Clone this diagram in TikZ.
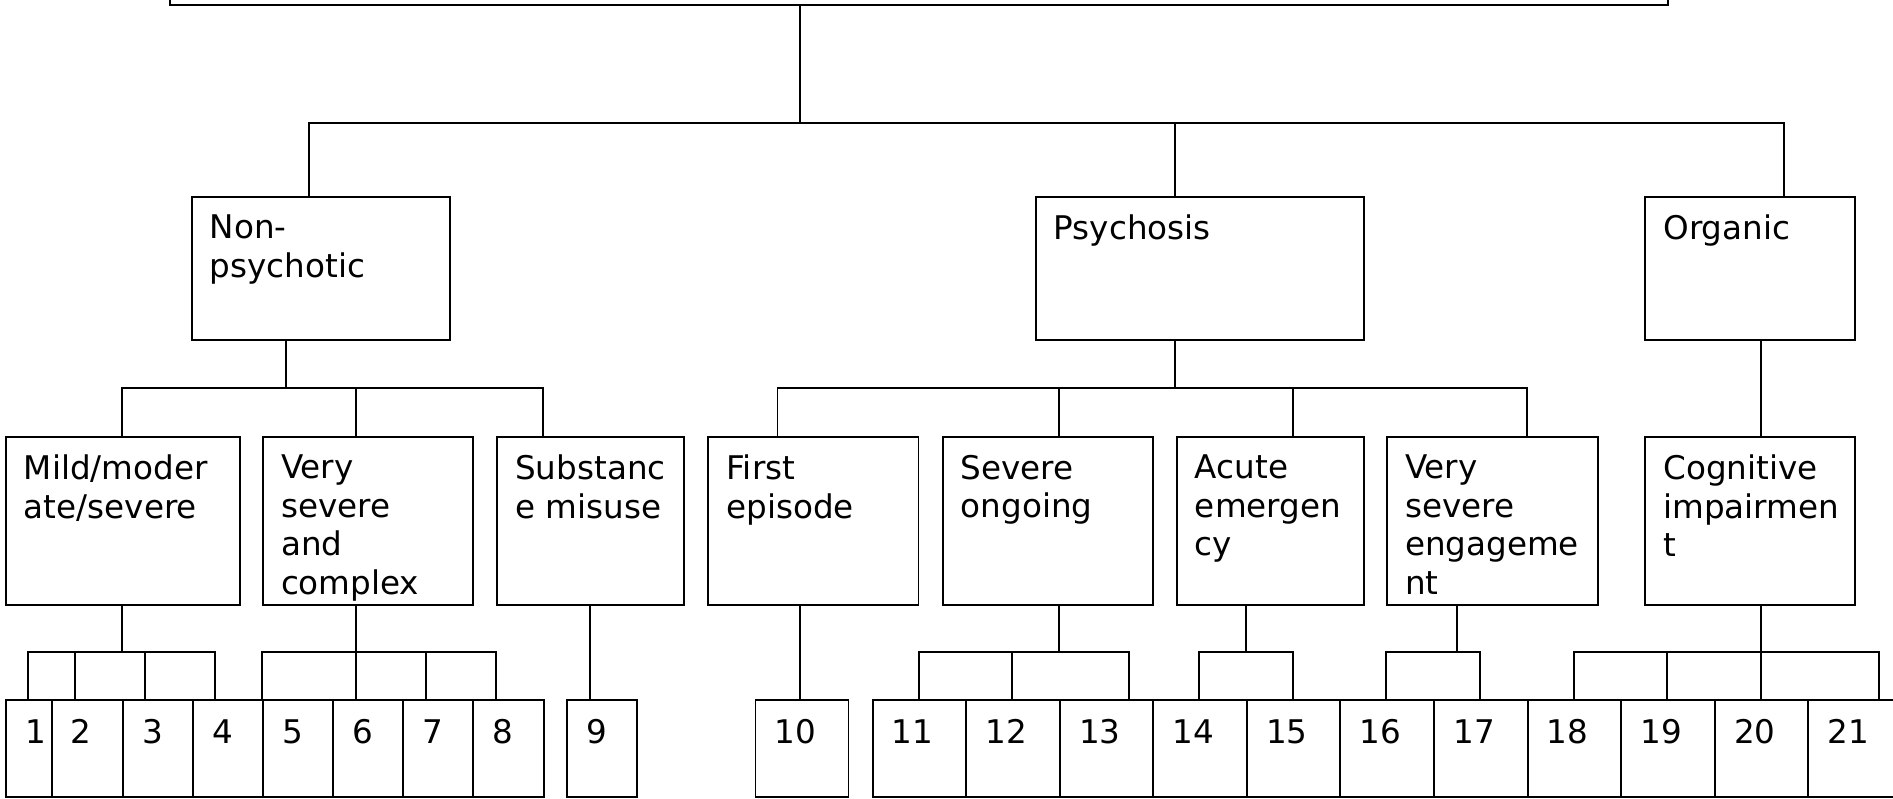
\documentclass[tikz,border=0pt]{standalone}
\usepackage{fontspec}
\setmainfont{DejaVu Sans}

\begin{document}
\begin{tikzpicture}[x=0.5pt,y=-0.5pt,line width=0.8pt,
  grp/.style={draw,anchor=north west,inner sep=0pt,minimum height=59.5pt},
  subgrp/.style={draw,anchor=north west,inner sep=0pt,minimum height=69.5pt},
  cell/.style={draw,anchor=north west,inner sep=0pt,minimum height=40pt},
  lbl/.style={anchor=north west,align=left,inner xsep=7.5pt,inner ysep=7.5pt,
    font=\fontsize{13.5}{16}\selectfont},
  num/.style={lbl,inner xsep=8pt,inner ysep=8pt}]
  \useasboundingbox (0,0) rectangle (1568,661);

  \node[draw,anchor=north west,inner sep=0pt,minimum width=620.5pt,minimum height=40pt] (top) at (140,-77){};

  \node[grp,minimum width=107pt] (np) at (158,162){};
  \node[lbl] (np-t) at (np.north west){Non-\\psychotic};
  \node[grp,minimum width=136pt] (ps) at (857,162){};
  \node[lbl] (ps-t) at (ps.north west){Psychosis};
  \node[grp,minimum width=87pt] (org) at (1362,162){};
  \node[lbl] (org-t) at (org.north west){Organic};

  \node[subgrp,minimum width=97pt] (mild) at (4,361){};
  \node[lbl] (mild-t) at (mild.north west){Mild/moder\\ate/severe};
  \node[subgrp,minimum width=87pt] (vsc) at (217,361){};
  \node[lbl] (vsc-t) at (vsc.north west){Very\\severe\\and\\complex};
  \node[subgrp,minimum width=77.5pt] (sub) at (411,361){};
  \node[lbl] (sub-t) at (sub.north west){Substanc\\e misuse};
  \node[subgrp,minimum width=87pt] (first) at (586,361){};
  \node[lbl] (first-t) at (first.north west){First\\episode};
  \node[subgrp,minimum width=87pt] (sevong) at (780,361){};
  \node[lbl] (sevong-t) at (sevong.north west){Severe\\ongoing};
  \node[subgrp,minimum width=77.5pt] (acute) at (974,361){};
  \node[lbl] (acute-t) at (acute.north west){Acute\\emergen\\cy};
  \node[subgrp,minimum width=87.5pt] (vse) at (1148,361){};
  \node[lbl] (vse-t) at (vse.north west){Very\\severe\\engageme\\nt};
  \node[subgrp,minimum width=87pt] (cog) at (1362,361){};
  \node[lbl] (cog-t) at (cog.north west){Cognitive\\impairmen\\t};

  \node[cell,minimum width=19pt] (n1) at (4,579){};
  \node[num] (n1-t) at (n1.north west){1};
  \node[cell,minimum width=29.5pt] (n2) at (42,579){};
  \node[num] (n2-t) at (n2.north west){2};
  \node[cell,minimum width=29pt] (n3) at (101,579){};
  \node[num] (n3-t) at (n3.north west){3};
  \node[cell,minimum width=29pt] (n4) at (159,579){};
  \node[num] (n4-t) at (n4.north west){4};
  \node[cell,minimum width=29pt] (n5) at (217,579){};
  \node[num] (n5-t) at (n5.north west){5};
  \node[cell,minimum width=29pt] (n6) at (275,579){};
  \node[num] (n6-t) at (n6.north west){6};
  \node[cell,minimum width=29pt] (n7) at (333,579){};
  \node[num] (n7-t) at (n7.north west){7};
  \node[cell,minimum width=29.5pt] (n8) at (391,579){};
  \node[num] (n8-t) at (n8.north west){8};
  \node[cell,minimum width=29pt] (n9) at (469,579){};
  \node[num] (n9-t) at (n9.north west){9};
  \node[cell,minimum width=38.5pt] (n10) at (625,579){};
  \node[num] (n10-t) at (n10.north west){10};
  \node[cell,minimum width=38.75pt] (n11) at (722,579){};
  \node[num] (n11-t) at (n11.north west){11};
  \node[cell,minimum width=38.75pt] (n12) at (799.5,579){};
  \node[num] (n12-t) at (n12.north west){12};
  \node[cell,minimum width=38.75pt] (n13) at (877,579){};
  \node[num] (n13-t) at (n13.north west){13};
  \node[cell,minimum width=38.75pt] (n14) at (954.5,579){};
  \node[num] (n14-t) at (n14.north west){14};
  \node[cell,minimum width=38.75pt] (n15) at (1032,579){};
  \node[num] (n15-t) at (n15.north west){15};
  \node[cell,minimum width=38.75pt] (n16) at (1109.5,579){};
  \node[num] (n16-t) at (n16.north west){16};
  \node[cell,minimum width=38.75pt] (n17) at (1187,579){};
  \node[num] (n17-t) at (n17.north west){17};
  \node[cell,minimum width=38.75pt] (n18) at (1264.5,579){};
  \node[num] (n18-t) at (n18.north west){18};
  \node[cell,minimum width=38.75pt] (n19) at (1342,579){};
  \node[num] (n19-t) at (n19.north west){19};
  \node[cell,minimum width=38.75pt] (n20) at (1419.5,579){};
  \node[num] (n20-t) at (n20.north west){20};
  \node[cell,minimum width=38.75pt] (n21) at (1497,579){};
  \node[num] (n21-t) at (n21.north west){21};

  \coordinate (j0) at (663,102);
  \coordinate (j1) at (237,321);
  \coordinate (j2) at (973,321);
  \coordinate (j3) at (1459,321);

  \draw (top.south -| j0) -- (j0);
  \draw (j0) -| (np.north -| 256,0);
  \draw (j0) -| (ps.north -| 973,0);
  \draw (j0) -| (org.north -| 1478,0);

  \draw (np.south -| j1) -- (j1);
  \draw (j1) -| (mild.north -| 101,0);
  \draw (j1) -| (vsc.north -| 295,0);
  \draw (j1) -| (sub.north -| 450,0);

  \draw (ps.south -| j2) -- (j2);
  \draw (j2) -| (first.north -| 644,0);
  \draw (j2) -| (sevong.north -| 877,0);
  \draw (j2) -| (acute.north -| 1071,0);
  \draw (j2) -| (vse.north -| 1265,0);

  \draw (org.south -| j3) -- (cog.north -| j3);

  \coordinate (k1) at (101,540);
  \coordinate (k2) at (295,540);
  \coordinate (k3) at (489,540);
  \coordinate (k4) at (663,540);
  \coordinate (k5) at (877,540);
  \coordinate (k6) at (1032,540);
  \coordinate (k7) at (1207,540);
  \coordinate (k8) at (1459,540);

  \draw (mild.south -| k1) -- (k1);
  \draw (k1) -| (n1.north -| 23,0);
  \draw (k1) -| (n2.north -| 62,0);
  \draw (k1) -| (n3.north -| 120,0);
  \draw (k1) -| (n4.north -| 178,0);

  \draw (vsc.south -| k2) -- (k2);
  \draw (k2) -| (n5.north -| 217,0);
  \draw (k2) -| (n6.north -| 295,0);
  \draw (k2) -| (n7.north -| 353,0);
  \draw (k2) -| (n8.north -| 411,0);

  \draw (sub.south -| k3) -- (n9.north -| k3);
  \draw (first.south -| k4) -- (n10.north -| k4);

  \draw (sevong.south -| k5) -- (k5);
  \draw (k5) -| (n11.north -| 761,0);
  \draw (k5) -| (n12.north -| 838,0);
  \draw (k5) -| (n13.north -| 935,0);

  \draw (acute.south -| k6) -- (k6);
  \draw (k6) -| (n14.north -| 993,0);
  \draw (k6) -| (n15.north -| 1071,0);

  \draw (vse.south -| k7) -- (k7);
  \draw (k7) -| (n16.north -| 1148,0);
  \draw (k7) -| (n17.north -| 1226,0);

  \draw (cog.south -| k8) -- (k8);
  \draw (k8) -| (n18.north -| 1304,0);
  \draw (k8) -| (n19.north -| 1381,0);
  \draw (k8) -| (n20.north -| 1459,0);
  \draw (k8) -| (n21.north -| 1556,0);

\end{tikzpicture}
\end{document}
